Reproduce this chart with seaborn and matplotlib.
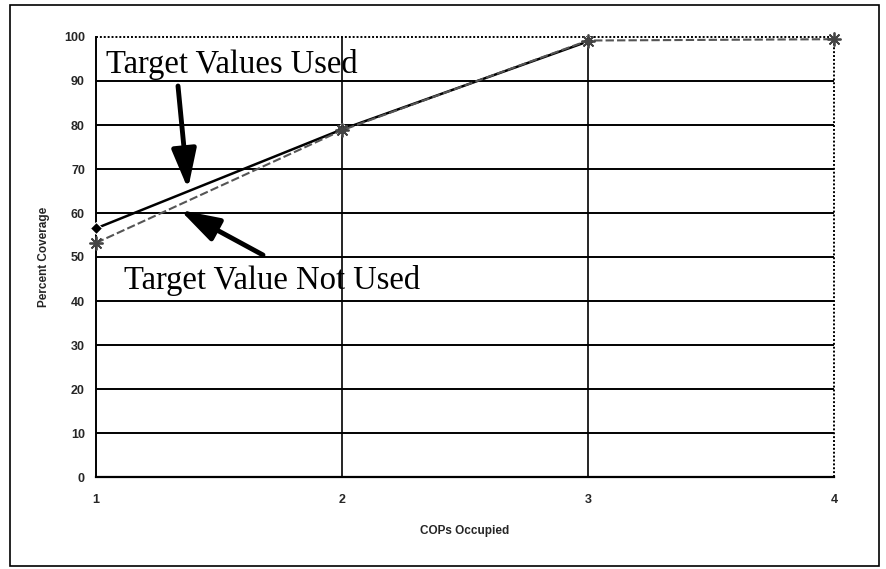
import matplotlib
matplotlib.use("Agg")
import matplotlib.pyplot as plt
import seaborn as sns
import pandas as pd
import numpy as np
from matplotlib.patches import Rectangle

# Data
cops = [1, 2, 3, 4]
used = [56.5, 79.0, 99.0, np.nan]
not_used = [53.2, 78.8, 99.2, 99.5]
yticks = list(range(0, 101, 10))
xticks = [1, 2, 3, 4]

df = pd.concat([
    pd.DataFrame({"COPs Occupied": cops, "Percent Coverage": used, "series": "Target Values Used"}),
    pd.DataFrame({"COPs Occupied": cops, "Percent Coverage": not_used, "series": "Target Value Not Used"}),
])

sns.set_style("white")
W, H = 887, 569
fig = plt.figure(figsize=(W / 100, H / 100), dpi=100)
ax = fig.add_axes([96 / W, 1 - 477 / H, (834 - 96) / W, (477 - 37) / H])

sub1 = df[(df.series == "Target Values Used")].dropna()
sns.lineplot(data=sub1, x="COPs Occupied", y="Percent Coverage", ax=ax, color="black",
             lw=1.8, marker="D", markersize=6, zorder=5, clip_on=False)
sub2 = df[df.series == "Target Value Not Used"]
sns.lineplot(data=sub2, x="COPs Occupied", y="Percent Coverage", ax=ax, color="#555555",
             lw=1.5, linestyle=(0, (4, 1.5)), marker=(8, 2, 0), markersize=10,
             markeredgecolor="#444444", markeredgewidth=1.3, zorder=6, clip_on=False)

ax.set_xlim(1, 4)
ax.set_ylim(0, 100)
ax.set_xticks(xticks)
ax.set_yticks(yticks)
ax.grid(False)
for yv in yticks[1:-1]:
    ax.axhline(yv, color="black", lw=1.4, zorder=1)
ax.axhline(100, color="black", lw=1.4, ls=(0, (1, 1)), zorder=1, clip_on=False)
for xv in [2, 3]:
    ax.axvline(xv, color="black", lw=1.2, zorder=1)
ax.axvline(4, color="black", lw=1.4, ls=(0, (1, 1)), zorder=1, clip_on=False)

for s in ["top", "right"]:
    ax.spines[s].set_visible(False)
ax.spines["left"].set_linestyle((0, (1, 1)))
ax.spines["left"].set_linewidth(1.4)
ax.spines["left"].set_color("black")
ax.spines["bottom"].set_linewidth(1.6)
ax.spines["bottom"].set_color("black")

ax.tick_params(axis="both", direction="out", length=4, width=1, color="black",
               labelsize=9, pad=4)
for lab in ax.get_xticklabels() + ax.get_yticklabels():
    lab.set_fontweight("bold")
    lab.set_family("Liberation Sans")
ax.tick_params(axis="x", pad=8)

ax.set_xlabel("COPs Occupied", fontsize=8.5, fontweight="bold", family="Liberation Sans", labelpad=14)
ax.set_ylabel("Percent Coverage", fontsize=8.5, fontweight="bold", family="Liberation Sans", labelpad=10)

# Annotations (figure pixel coordinates)
fig.text(106 / W, 1 - 64 / H, "Target Values Used", family="Liberation Serif",
         fontsize=23.5, va="center", ha="left", color="black", zorder=7)
fig.text(124 / W, 1 - 281 / H, "Target Value Not Used", family="Liberation Serif",
         fontsize=23.5, va="center", ha="left", color="black", zorder=7)

arrowprops = dict(arrowstyle="-|>,head_length=2.4,head_width=0.75", lw=3.5, color="black",
                  shrinkA=0, shrinkB=0)
ax.annotate("", xy=(188, H - 189), xytext=(178, H - 86), xycoords="figure pixels",
            textcoords="figure pixels", arrowprops=arrowprops, zorder=7)
ax.annotate("", xy=(180, H - 210), xytext=(263, H - 255), xycoords="figure pixels",
            textcoords="figure pixels", arrowprops=arrowprops, zorder=7)

# Outer frame
fig.patches.append(Rectangle((10 / W, 3 / H), (879 - 10) / W, (564 - 3) / H,
                             transform=fig.transFigure, fill=False, ec="black", lw=1.2))

fig.savefig("out.png", dpi=100)
